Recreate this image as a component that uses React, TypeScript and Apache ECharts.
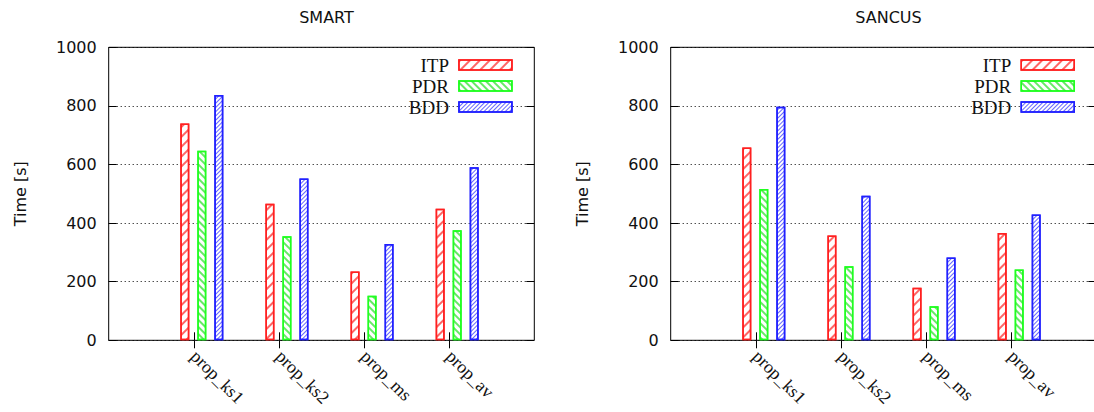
import React, { useEffect, useRef } from 'react';
import * as echarts from 'echarts';

const categories = ['prop_ks1', 'prop_ks2', 'prop_ms', 'prop_av'];
const seriesNames = ['ITP', 'PDR', 'BDD'];
const panelTitles = ['SMART', 'SANCUS'];
const yAxisName = 'Time [s]';
const yMin = 0;
const yMax = 1000;
const yStep = 200;

const smartITP = [740, 466, 235, 449];
const smartPDR = [647, 355, 152, 376];
const smartBDD = [837, 552, 329, 591];

const sancusITP = [658, 358, 179, 366];
const sancusPDR = [516, 253, 116, 242];
const sancusBDD = [797, 493, 283, 429];

const panelData = [
  [smartITP, smartPDR, smartBDD],
  [sancusITP, sancusPDR, sancusBDD],
];

// layout / style (not data)
const PANEL_LEFT = [108.7, 670.7];
const LEGEND_RIGHT = [581.3, 19];
const PLOT_W = 425.6;
const PLOT_TOP = 47.3;
const PLOT_H = 293;
const BAR_SHIFT = 8;

const seriesStyles = [
  { border: '#ff2020', hatch: 'rgba(255,0,0,0.6)', rot: -Math.PI / 4, line: 1.5, gap: 4.5 },
  { border: '#20ff20', hatch: 'rgba(0,220,0,0.6)', rot: Math.PI / 4, line: 1.2, gap: 3 },
  { border: '#2020ff', hatch: 'rgba(0,0,255,0.6)', rot: -Math.PI / 4, line: 1, gap: 2 },
];

const decalOf = (s: typeof seriesStyles[number]) => ({
  symbol: 'rect',
  symbolSize: 1,
  dashArrayX: [1, 0],
  dashArrayY: [s.line, s.gap],
  rotation: s.rot,
  color: s.hatch,
});

function buildOption() {
  const padded = ['', ...categories, ''];
  const n = padded.length;
  const grid: any[] = [];
  const xAxis: any[] = [];
  const yAxis: any[] = [];
  const series: any[] = [];
  const title: any[] = [];
  const legend: any[] = [];

  panelTitles.forEach((t, p) => {
    const left = PANEL_LEFT[p];
    grid.push({
      left, top: PLOT_TOP, width: PLOT_W, height: PLOT_H, outerBoundsMode: 'none', containLabel: false,
      show: true, borderColor: '#000', borderWidth: 1, backgroundColor: 'transparent',
    });
    grid.push({
      left: left + BAR_SHIFT, top: PLOT_TOP, width: PLOT_W, height: PLOT_H,
      outerBoundsMode: 'none', containLabel: false, show: false,
    });
    const g0 = 2 * p;
    const g1 = 2 * p + 1;
    const tickInterval = (idx: number) => idx > 0 && idx < n - 1;

    xAxis.push({
      gridIndex: g0, type: 'category', data: padded, boundaryGap: false, position: 'bottom',
      axisLine: { show: false },
      axisTick: { show: true, inside: true, length: 8, interval: tickInterval, lineStyle: { color: '#000' } },
      axisLabel: {
        interval: 0, rotate: -45, margin: 13, color: '#111',
        fontFamily: 'Liberation Serif', fontSize: 18,
      },
      splitLine: { show: false },
    });
    xAxis.push({
      gridIndex: g0, type: 'category', data: padded, boundaryGap: false, position: 'top',
      axisLine: { show: false },
      axisTick: { show: true, inside: true, length: 8, interval: tickInterval, lineStyle: { color: '#000' } },
      axisLabel: { show: false },
      splitLine: { show: false },
    });
    xAxis.push({
      gridIndex: g1, type: 'category', data: padded, boundaryGap: false, show: false,
    });

    yAxis.push({
      gridIndex: g0, type: 'value', min: yMin, max: yMax, interval: yStep, position: 'left',
      axisLine: { show: false },
      axisTick: { show: true, inside: true, length: 8, lineStyle: { color: '#000' } },
      axisLabel: {
        margin: 12, color: '#111', fontFamily: 'DejaVu Sans', fontSize: 16,
        formatter: (v: number) => String(v),
      },
      splitLine: { show: true, lineStyle: { type: [1, 3], color: '#000', width: 1 } },
      name: yAxisName, nameLocation: 'middle', nameGap: 80,
      nameTextStyle: { color: '#111', fontFamily: 'DejaVu Sans', fontSize: 16 },
    });
    yAxis.push({
      gridIndex: g0, type: 'value', min: yMin, max: yMax, interval: yStep, position: 'right',
      axisLine: { show: false },
      axisTick: { show: true, inside: true, length: 8, lineStyle: { color: '#000' } },
      axisLabel: { show: false },
      splitLine: { show: false },
    });
    yAxis.push({ gridIndex: g1, type: 'value', min: yMin, max: yMax, show: false, splitLine: { show: false } });

    seriesNames.forEach((name, s) => {
      const st = seriesStyles[s];
      series.push({
        type: 'bar', name,
        xAxisIndex: 3 * p + 2, yAxisIndex: 3 * p + 2,
        data: ['-', ...panelData[p][s], '-'],
        barWidth: 9, barGap: '89%',
        itemStyle: { color: '#fff', borderColor: st.border, borderWidth: 1.5, decal: decalOf(st) },
      });
    });

    title.push({
      text: t, left: left + PLOT_W / 2, top: 4, textAlign: 'center',
      textStyle: { fontFamily: 'DejaVu Sans', fontSize: 16, fontWeight: 'normal', color: '#111' },
    });

    legend.push({
      data: seriesNames.map((name, s) => ({
        name,
        itemStyle: {
          color: '#fff', borderColor: seriesStyles[s].border, borderWidth: 1.5,
          decal: decalOf(seriesStyles[s]),
        },
      })),
      orient: 'vertical', right: LEGEND_RIGHT[p], top: 55, align: 'right',
      itemWidth: 53, itemHeight: 10, itemGap: 1, icon: 'rect', padding: 0,
      selectedMode: false,
      textStyle: {
        fontFamily: 'Liberation Serif', fontSize: 19, color: '#111', lineHeight: 20,
        padding: [0, 5, 0, 0],
      },
    });
  });

  return { animation: false, backgroundColor: '#fff', title, legend, grid, xAxis, yAxis, series };
}

export default function App() {
  const ref = useRef<HTMLDivElement>(null);
  useEffect(() => {
    if (!ref.current) return;
    const chart = echarts.init(ref.current, undefined, { renderer: 'svg' });
    chart.setOption(buildOption() as any);
    return () => chart.dispose();
  }, []);
  return (
    <div
      ref={ref}
      style={{ position: 'absolute', left: 0, top: 0, width: 1094, height: 412 }}
    />
  );
}
